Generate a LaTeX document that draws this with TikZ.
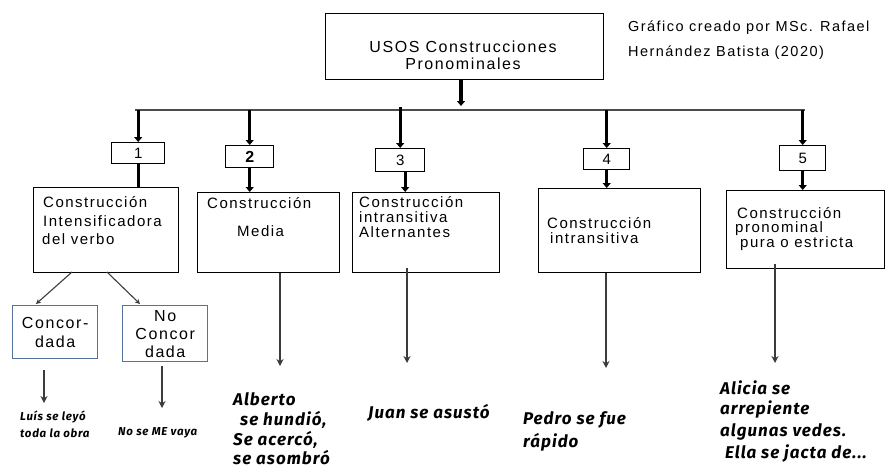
\documentclass[tikz,border=0pt]{standalone}
\usepackage{fontspec}
\setmainfont{Liberation Sans}[LetterSpace=10]
\newfontfamily\exfont{Fira Sans}[LetterSpace=6]
\usetikzlibrary{arrows.meta}
\definecolor{bluebox}{RGB}{84,114,156}
\definecolor{thinarr}{RGB}{60,60,60}
\begin{document}
\begin{tikzpicture}[x=1pt,y=-1pt,
  box/.style={draw, line width=1.4pt, rectangle, inner sep=0pt, anchor=north west},
  bbox/.style={draw=bluebox, line width=1.4pt, rectangle, inner sep=0pt, anchor=north west},
  numbox/.style={draw, line width=1.4pt, rectangle, inner sep=0pt, anchor=north west, font=\fontsize{15}{16}\selectfont},
  txt/.style={anchor=west, inner sep=0pt, font=\fontsize{15}{18}\selectfont},
  ex/.style={anchor=west, inner sep=0pt, font=\exfont\bfseries\itshape\fontsize{17}{20}\selectfont},
  exs/.style={anchor=west, inner sep=0pt, font=\exfont\bfseries\itshape\fontsize{11.5}{16}\selectfont},
  bigarr/.style={line width=3.2pt, -{Triangle[width=8pt,length=5pt]}},
  bigline/.style={line width=3.2pt},
  thinline/.style={draw=thinarr, line width=1.3pt, -{Stealth[length=7pt,width=7pt]}},
  bar/.style={draw=black!70, line width=2pt}
]
\fill[white] (0,0) rectangle (888,471);
\useasboundingbox (0,0) rectangle (888,471);

% top box
\node[box, minimum width=278pt, minimum height=66pt] (top) at (325,13) {};
\node[align=center, inner sep=0pt, font=\fontsize{16}{17}\selectfont] (toptxt) at (463,55) {USOS Construcciones\\Pronominales};
\node[anchor=west, inner sep=0pt, font=\fontsize{14.5}{16}\selectfont] (cred1) at (628,28) {Gráfico creado por MSc. Rafael};
\node[anchor=west, inner sep=0pt, font=\fontsize{14.5}{16}\selectfont] (cred2) at (628,53) {Hernández Batista (2020)};

% bar
\coordinate (barL) at (135,110);
\coordinate (barR) at (805,110);
\coordinate (hub) at (461,106);
\draw[bigarr] (top.south -| hub) -- (hub);
\draw[bar] (barL) -- (barR);

% number boxes
\node[numbox, minimum width=53pt, minimum height=21pt] (n1) at (111,142) {1};
\node[numbox, minimum width=48pt, minimum height=22pt, font=\bfseries\fontsize{16}{16}\selectfont] (n2) at (225,145) {2};
\node[numbox, minimum width=49pt, minimum height=23pt] (n3) at (375,148) {3};
\node[numbox, minimum width=46pt, minimum height=21pt] (n4) at (583,148) {4};
\node[numbox, minimum width=46pt, minimum height=25pt] (n5) at (779,145) {5};

% big boxes
\node[box, minimum width=145pt, minimum height=85pt] (A) at (33,187) {};
\node[box, minimum width=142pt, minimum height=80pt] (B) at (197,192) {};
\node[box, minimum width=147pt, minimum height=80pt] (C) at (352,192) {};
\node[box, minimum width=162pt, minimum height=84pt] (D) at (538,188) {};
\node[box, minimum width=158pt, minimum height=78pt] (E) at (726,190) {};

% texts in boxes
\node[txt] (a1) at (43,202) {Construcción};
\node[txt] (a2) at (43,221) {Intensificadora};
\node[txt] (a3) at (42,239) {del verbo};
\node[txt] (b1) at (207,203) {Construcción};
\node[txt] (b2) at (237,231) {Media};
\node[txt] (c1) at (359,202) {Construcción};
\node[txt] (c2) at (359,217) {intransitiva};
\node[txt] (c3) at (359,232) {Alternantes};
\node[txt] (d1) at (547,223) {Construcción};
\node[txt] (d2) at (550,238) {intransitiva};
\node[txt] (e1) at (737,213) {Construcción};
\node[txt] (e2) at (735,229) {pronominal};
\node[txt] (e3) at (740,244) {pura o estricta};

% branch connectors
\draw[bigarr] (n1.north |- barL) -- (n1.north);
\draw[bigarr] (n2.north |- barL) -- (n2.north);
\draw[bigarr] ([yshift=3pt]n3.north |- barL) -- (n3.north);
\draw[bigarr] (n4.north |- barL) -- (n4.north);
\draw[bigarr] (n5.north |- barL) -- (n5.north);
\draw[bigline] (n1.south) -- (n1.south |- A.north);
\draw[bigarr] (n2.south) -- (n2.south |- B.north);
\draw[bigarr] ([xshift=5pt]n3.south) -- ([xshift=5pt]n3.south |- C.north);
\draw[bigarr] (n4.south) -- (n4.south |- D.north);
\draw[bigarr] (n5.south) -- (n5.south |- E.north);

% sub boxes
\node[bbox, minimum width=85pt, minimum height=53pt] (ca) at (12,305) {};
\node[align=center, inner sep=0pt, font=\fontsize{16}{19}\selectfont] (catxt) at (ca.center) {Concor-\\dada};
\node[bbox, minimum width=85pt, minimum height=56pt] (nc) at (122,305) {};
\node[align=center, inner sep=0pt, font=\fontsize{16}{18}\selectfont] (nctxt) at (nc.center) {No\\Concor\\dada};

\coordinate (aL) at (72,272);
\coordinate (aR) at (107,272);
\coordinate (caT) at (36,304);
\coordinate (ncT) at (140,304);
\draw[thinline, line width=1.1pt, -{Stealth[length=5pt,width=5pt]}] (aL) -- (caT);
\draw[thinline, line width=1.1pt, -{Stealth[length=5pt,width=5pt]}] (aR) -- (ncT);

% down arrows
\coordinate (caE) at (44,403);
\coordinate (ncE) at (162,408);
\coordinate (bE) at (280,366);
\coordinate (cE) at (407,363);
\coordinate (dE) at (606,368);
\coordinate (eE) at (775,363);
\draw[thinline] (caE |- 0,370) -- (caE);
\draw[thinline] (ncE |- 0,366) -- (ncE);
\draw[thinline] (bE |- B.south) -- (bE);
\draw[thinline] ([yshift=5pt]cE |- C.south) -- (cE);
\draw[thinline] (dE |- D.south) -- (dE);
\draw[thinline] ([yshift=5pt]eE |- E.south) -- (eE);

% examples
\node[exs] (x1) at (20,417) {Luís se leyó};
\node[exs] (x2) at (20,433) {toda la obra};
\node[exs] (x3) at (118,433) {No se ME vaya};
\node[ex] (x4) at (233,399) {Alberto};
\node[ex] (x5) at (240,420) {se hundió,};
\node[ex] (x6) at (233,440) {Se acercó,};
\node[ex] (x7) at (233,458) {se asombró};
\node[ex] (x8) at (368,413) {Juan se asustó};
\node[ex] (x9) at (523,420) {Pedro se fue};
\node[ex] (x10) at (523,442) {rápido};
\node[ex] (x11) at (720,388) {Alicia se};
\node[ex] (x12) at (720,410) {arrepiente};
\node[ex] (x13) at (720,432) {algunas vedes.};
\node[ex] (x14) at (725,453) {Ella se jacta de...};
\end{tikzpicture}
\end{document}
